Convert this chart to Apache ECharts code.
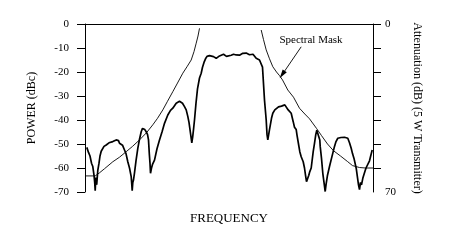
<!DOCTYPE html>
<html>
<head>
<meta charset="utf-8">
<script src="https://cdn.jsdelivr.net/npm/echarts@6/dist/echarts.min.js"></script>
<style>
html,body{margin:0;padding:0;background:#fff;}
#chart{width:457px;height:242px;}
</style>
</head>
<body>
<div id="chart"></div>
<script>
// Measured spectrum: [frequency (arbitrary units), power dBc]
const spectrumFreq = [1.8,3.5,5,6.5,7.8,9,9.7,10.2,10.8,11.7,12.8,14,15,16.2,17.5,19,21.2,22.5,24,25.5,27.8,29.5,31.2,32.5,33.5,34.5,36,37.5,39.5,41,42.8,44.5,46.2,46.8,47.2,47.8,48.5,49.5,51,52.8,54.5,56.2,57.5,58.5,59.8,61.2,62.5,63.5,64.3,65,65.5,66.5,67.5,69.5,72,74.5,77,79.5,82.8,85.5,87.8,89.5,91.2,92.8,94.5,96.2,97.5,98.5,99.5,101.2,102.8,104,105,106,106.8,107.7,108.5,109.5,111,112.5,114.5,116.2,117.5,119,120.5,122,122.8,124.5,126.5,128.5,131.2,133,134.5,136.5,138.5,139.5,141.5,143.5,146.2,148.5,151.2,152.8,154.5,156.5,157.8,159.5,161.2,162.8,164.5,166.2,168,169.5,171.2,173,174.5,176.2,177.5,179.5,180.8,181.2,182,182.8,183.5,184.5,186.5,187.8,189.8,191.5,193.5,194.8,196.5,198,199.8,200.5,201.5,203.2,204.5,206.2,208.2,209.5,211.2,212,213.5,214.8,216.2,218.2,219.5,220.5,221.5,222.8,223.8,224.8,226.2,228.2,229.5,230.8,231.8,233,234.8,235.2,236.5,237.8,239,240.2,241,242.5,244.5,246.5,249.5,251,252.8,254.5,256,257.8,259.5,261,262.8,264.5,266.2,267.5,269,271.2,272.5,273.5,274.5,275.5,276.5,277.8,279.5,281,282.8,284.5,286,287.2];
const spectrumPower = [-51.4,-53.5,-55,-58,-59.4,-63,-66,-69.5,-64,-67,-61,-58,-55,-53,-52.5,-51,-50.4,-50.5,-49.5,-49.8,-49,-48.8,-48.3,-49,-48.6,-49.7,-50,-50.5,-52.5,-54,-57.4,-60,-63.6,-67,-69.5,-66,-65,-62,-57,-51.8,-48,-44.9,-43.5,-43,-44,-44.9,-46,-48.3,-54,-58,-62.2,-60,-58.5,-56.7,-52,-48.3,-45,-41.4,-37.9,-36,-35.1,-34.5,-33,-33.5,-32.2,-31.8,-33,-32.5,-34.4,-35.8,-38.5,-41,-44,-47,-49.5,-47,-44,-40,-33,-27,-22.5,-20.5,-18,-16,-14.5,-13.5,-12.9,-13.2,-12.8,-13.6,-14.3,-13.5,-13.3,-13,-12.6,-12.9,-13.5,-12.8,-13,-12.6,-12.9,-12.5,-13,-12.4,-12.2,-12.8,-12.1,-11.9,-12.8,-13,-12.6,-12.9,-14.3,-14.6,-15,-15.7,-18,-31.7,-38,-40,-46,-48.3,-46.5,-44,-39.3,-37.2,-35.8,-35.5,-34.5,-35.1,-34.2,-33.8,-33.7,-33.3,-34.5,-35.8,-36.5,-37.2,-40.7,-43,-44,-46.3,-50,-53.2,-55.3,-57.4,-60,-63,-65.7,-65,-63,-61.5,-60,-53.2,-49.7,-46,-44.3,-45,-48.3,-51,-56,-62.2,-66,-69.8,-67,-63,-59.4,-56,-51,-49,-47.6,-47,-47.3,-46.9,-47.2,-47,-47.6,-49.5,-51.8,-54,-56,-60.1,-64,-67,-69,-66,-67,-64.3,-62,-60,-59.4,-57,-54.5,-52.5];

// Spectral mask, lower side and upper side
const maskLowFreq = [0,10.2,14.5,19.5,27.8,34.5,41.2,47.5,54.5,61.5,67.8,72.5,77.8,82.5,87.8,92.5,97.8,102,106.2,109,111.2,113,114.5];
const maskLowLevel = [-63.3,-63.3,-62,-60.3,-57.4,-55.5,-53.2,-51,-48.3,-45.3,-42,-39.3,-35.8,-32.2,-28.2,-24.6,-20.5,-17.8,-15,-11.5,-8,-5,-1.8];
const maskHighFreq = [176.2,178.5,181.2,184.5,187.8,191.5,194.5,197.5,202.8,208.5,214.5,219.8,224.5,231.5,236.5,242.5,248.5,255.5,262.5,267.5,274.5,280.5,288];
const maskHighLevel = [-2.5,-6.5,-10.8,-14.5,-17.8,-20,-21.5,-23.3,-27.5,-30.5,-35.1,-37.5,-39.5,-43.5,-46.5,-50,-52.8,-55,-57.3,-59,-59.8,-60,-60];

// Axis ticks
const powerTicks = [0,-10,-20,-30,-40,-50,-60,-70];
const attenTicks = [0,-10,-20,-30,-40,-50,-60];
const attenLabels = [0,-70];

// Annotation
const annotText = 'Spectral Mask';
const annotTextAt = [226,-6.7];
const annotArrowFrom = [216.2,-9.5];
const annotArrowTo = [197.2,-21.1];

const zip = (a,b)=>a.map((v,i)=>[v,b[i]]);
const FONT = 'Liberation Serif';

const chart = echarts.init(document.getElementById('chart'));
chart.setOption({
  animation:false,
  backgroundColor:'#fff',
  grid:{left:85,right:84,top:24,bottom:50},
  xAxis:[{
    type:'value',min:0,max:288,position:'bottom',
    axisLine:{show:true,lineStyle:{color:'#000',width:1}},
    axisTick:{show:false},axisLabel:{show:false},splitLine:{show:false},
    name:'FREQUENCY',nameLocation:'middle',nameGap:20,
    nameTextStyle:{fontFamily:FONT,fontSize:13,color:'#000'}
  },{
    type:'value',min:0,max:288,position:'top',
    axisLine:{show:true,onZero:false,lineStyle:{color:'#000',width:1}},
    axisTick:{show:false},axisLabel:{show:false},splitLine:{show:false}
  }],
  yAxis:[{
    type:'value',min:-70,max:0,interval:10,position:'left',
    axisLine:{show:true,onZero:false,lineStyle:{color:'#000',width:1}},
    axisTick:{show:true,inside:false,length:8,lineStyle:{color:'#000'},customValues:powerTicks},
    axisLabel:{margin:16,fontFamily:FONT,fontSize:11,color:'#000',customValues:powerTicks},
    splitLine:{show:false},
    name:'POWER (dBc)',nameLocation:'middle',nameRotate:90,nameGap:47,nameMoveOverlap:false,
    nameTextStyle:{fontFamily:FONT,fontSize:12,color:'#000'}
  },{
    type:'value',min:-70,max:0,interval:10,position:'right',
    axisLine:{show:true,onZero:false,lineStyle:{color:'#000',width:1}},
    axisTick:{show:true,inside:false,length:8,lineStyle:{color:'#000'},customValues:attenTicks},
    axisLabel:{margin:12,fontFamily:FONT,fontSize:11,color:'#000',customValues:attenLabels,formatter:v=>String(Math.abs(v))},
    splitLine:{show:false},
    name:'Attenuation (dB) (5 W Transmitter)',nameLocation:'middle',nameRotate:-90,nameGap:38,nameMoveOverlap:false,
    nameTextStyle:{fontFamily:FONT,fontSize:12,color:'#000'}
  }],
  series:[{
    type:'line',name:'spectrum',data:zip(spectrumFreq,spectrumPower),
    showSymbol:false,symbol:'none',lineStyle:{color:'#000',width:1.7},z:3
  },{
    type:'line',name:'maskLow',data:zip(maskLowFreq,maskLowLevel),
    showSymbol:false,symbol:'none',lineStyle:{color:'#000',width:0.9},z:2
  },{
    type:'line',name:'maskHigh',data:zip(maskHighFreq,maskHighLevel),
    showSymbol:false,symbol:'none',lineStyle:{color:'#000',width:0.9},z:2,
    markLine:{
      silent:true,symbol:['none','triangle'],symbolSize:[5,9],
      lineStyle:{color:'#000',width:0.9,type:'solid'},
      label:{show:false},
      data:[[{coord:annotArrowFrom},{coord:annotArrowTo}]]
    },
    markPoint:{
      silent:true,symbol:'circle',symbolSize:0,
      label:{show:true,position:'inside',formatter:annotText,fontFamily:FONT,fontSize:11,color:'#000'},
      data:[{coord:annotTextAt}]
    }
  }]
});
</script>
</body>
</html>
